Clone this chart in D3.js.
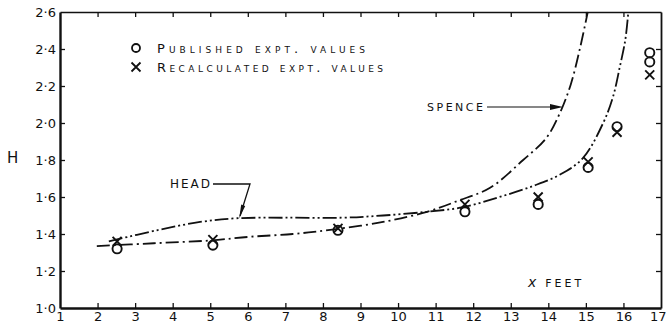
<!DOCTYPE html>
<html>
<head>
<meta charset="utf-8">
<script src="https://cdn.jsdelivr.net/npm/d3@7"></script>
<style>
  html, body { margin: 0; padding: 0; background: #fff; }
  svg { display: block; }
  text { font-family: "DejaVu Sans", sans-serif; fill: #111; }
</style>
</head>
<body>
<svg id="chart" width="668" height="325"></svg>
<script>
// ---- data ----
const xTicks = [1,2,3,4,5,6,7,8,9,10,11,12,13,14,15,16,17];
const yTicks = [1.0,1.2,1.4,1.6,1.8,2.0,2.2,2.4,2.6];

const xPublished = [2.52, 5.07, 8.4, 11.78, 13.73, 15.06, 15.83, 16.7, 16.7];
const hPublished = [1.32, 1.34, 1.42, 1.52, 1.56, 1.76, 1.98, 2.38, 2.33];

const xRecalc = [2.52, 5.07, 8.4, 11.78, 13.73, 15.06, 15.83, 16.7];
const hRecalc = [1.36, 1.37, 1.43, 1.56, 1.60, 1.79, 1.95, 2.26];

const xSpence = [1.98, 3.5, 5.0, 6.06, 7.2, 8.3, 9.6, 10.77, 11.6, 12.45, 13.33, 13.95, 14.3, 14.6, 14.85, 15.05];
const hSpence = [1.335, 1.35, 1.365, 1.385, 1.40, 1.425, 1.465, 1.52, 1.58, 1.65, 1.80, 1.92, 2.05, 2.21, 2.41, 2.60];

const xHead = [2.3, 3.58, 4.73, 5.7, 7.0, 8.5, 9.6, 10.77, 11.73, 12.7, 13.6, 14.3, 14.92, 15.46, 15.72, 15.9, 16.05, 16.13];
const hHead = [1.36, 1.42, 1.465, 1.485, 1.488, 1.488, 1.50, 1.52, 1.545, 1.60, 1.66, 1.72, 1.81, 2.0, 2.14, 2.30, 2.45, 2.60];

// ---- drawing ----
const svg = d3.select("#chart");
const x = d3.scaleLinear().domain([1, 17]).range([60, 661]);
const y = d3.scaleLinear().domain([1.0, 2.6]).range([308, 12]);

const fmtY = v => d3.format(".1f")(v).replace(".", "·");

const gB = svg.append("g").attr("transform", `translate(0,${y(1.0)})`)
  .call(d3.axisBottom(x).tickValues(xTicks).tickSizeInner(-5).tickSizeOuter(0).tickPadding(4).tickFormat(d3.format("d")));
const gL = svg.append("g").attr("transform", `translate(${x(1)},0)`)
  .call(d3.axisLeft(y).tickValues(yTicks).tickSizeInner(-5).tickSizeOuter(0).tickPadding(4).tickFormat(fmtY));
const gT = svg.append("g").attr("transform", `translate(0,${y(2.6)})`)
  .call(d3.axisTop(x).tickValues(xTicks).tickSizeInner(-5).tickSizeOuter(0).tickFormat(""));
const gR = svg.append("g").attr("transform", `translate(${x(17)},0)`)
  .call(d3.axisRight(y).tickValues(yTicks).tickSizeInner(-5).tickSizeOuter(0).tickFormat(""));

[gB, gL, gT, gR].forEach(g => {
  g.selectAll("line").attr("stroke", "#111").attr("stroke-width", 1.3);
  g.selectAll("text").attr("font-size", 13).attr("fill", "#111");
  g.select(".domain").attr("stroke", "#111");
});
gB.select(".domain").attr("stroke-width", 2.4);
gL.select(".domain").attr("stroke-width", 2.4);
gT.select(".domain").attr("stroke-width", 1.6);
gR.select(".domain").attr("stroke-width", 1.8);
gB.selectAll(".tick").filter(d => d === 1 || d === 17).select("line").remove();
gT.selectAll(".tick").filter(d => d === 1 || d === 17).select("line").remove();
gL.selectAll(".tick").filter(d => d === 1.0 || d === 2.6).select("line").remove();
gR.selectAll(".tick").filter(d => d === 1.0 || d === 2.6).select("line").remove();
gT.selectAll("text").remove();
gR.selectAll("text").remove();
// keep the last bottom label inside the picture
gB.selectAll(".tick").filter(d => d === 17).select("text")
  .attr("text-anchor", "end").attr("x", 5);

// curves
const line = d3.line().x(d => x(d[0])).y(d => y(d[1])).curve(d3.curveCatmullRom.alpha(0.5));
const spence = xSpence.map((v, i) => [v, hSpence[i]]);
const head = xHead.map((v, i) => [v, hHead[i]]);

svg.append("path").attr("d", line(spence))
  .attr("fill", "none").attr("stroke", "#111").attr("stroke-width", 1.8)
  .attr("stroke-dasharray", "13,4,2,4");
svg.append("path").attr("d", line(head))
  .attr("fill", "none").attr("stroke", "#111").attr("stroke-width", 1.8)
  .attr("stroke-dasharray", "14,3,2,3,2,3");

// markers
svg.append("g").selectAll("circle")
  .data(xPublished.map((v, i) => [v, hPublished[i]]))
  .join("circle")
  .attr("cx", d => x(d[0])).attr("cy", d => y(d[1])).attr("r", 4.6)
  .attr("fill", "none").attr("stroke", "#111").attr("stroke-width", 1.9);

const cs = 4.5;
svg.append("g").selectAll("path")
  .data(xRecalc.map((v, i) => [v, hRecalc[i]]))
  .join("path")
  .attr("d", d => {
    const px = x(d[0]), py = y(d[1]);
    return `M${px - cs},${py - cs}L${px + cs},${py + cs}M${px + cs},${py - cs}L${px - cs},${py + cs}`;
  })
  .attr("fill", "none").attr("stroke", "#111").attr("stroke-width", 1.9);

// legend
const lg = svg.append("g");
lg.append("circle").attr("cx", 136).attr("cy", 48).attr("r", 4).attr("fill", "none")
  .attr("stroke", "#111").attr("stroke-width", 1.8);
lg.append("path").attr("d", `M131.5,62.5L140.5,71.5M140.5,62.5L131.5,71.5`)
  .attr("stroke", "#111").attr("stroke-width", 1.8).attr("fill", "none");
lg.append("text").attr("x", 157).attr("y", 53).attr("font-size", 13)
  .attr("font-variant", "small-caps").attr("textLength", 208).attr("lengthAdjust", "spacing")
  .text("Published expt. values");
lg.append("text").attr("x", 157).attr("y", 72).attr("font-size", 13)
  .attr("font-variant", "small-caps").attr("textLength", 226).attr("lengthAdjust", "spacing")
  .text("Recalculated expt. values");

// HEAD label and arrow
svg.append("text").attr("x", 170).attr("y", 188).attr("font-size", 12)
  .attr("textLength", 40).attr("lengthAdjust", "spacing")
  .text("HEAD");
svg.append("path").attr("d", "M213,184L250,184L240,216")
  .attr("fill", "none").attr("stroke", "#111").attr("stroke-width", 1.3);
svg.append("path").attr("d", "M239.2,218.5L241.2,204.5L245.2,206.0Z").attr("fill", "#111");

// SPENCE label and arrow
svg.append("text").attr("x", 427).attr("y", 111).attr("font-size", 11)
  .attr("textLength", 56).attr("lengthAdjust", "spacing")
  .text("SPENCE");
svg.append("path").attr("d", "M487,107L558,107")
  .attr("fill", "none").attr("stroke", "#111").attr("stroke-width", 1.2);
svg.append("path").attr("d", "M563,107L550,104L550,110Z").attr("fill", "#111");

// axis titles
svg.append("text").attr("x", 7).attr("y", 163).attr("font-size", 15).text("H");
const xt = svg.append("text").attr("x", 528).attr("y", 287).attr("font-size", 11);
xt.append("tspan").attr("font-size", 14).attr("font-style", "italic").text("x");
xt.append("tspan").attr("dx", 9).attr("letter-spacing", 3).text("FEET");
</script>
</body>
</html>
